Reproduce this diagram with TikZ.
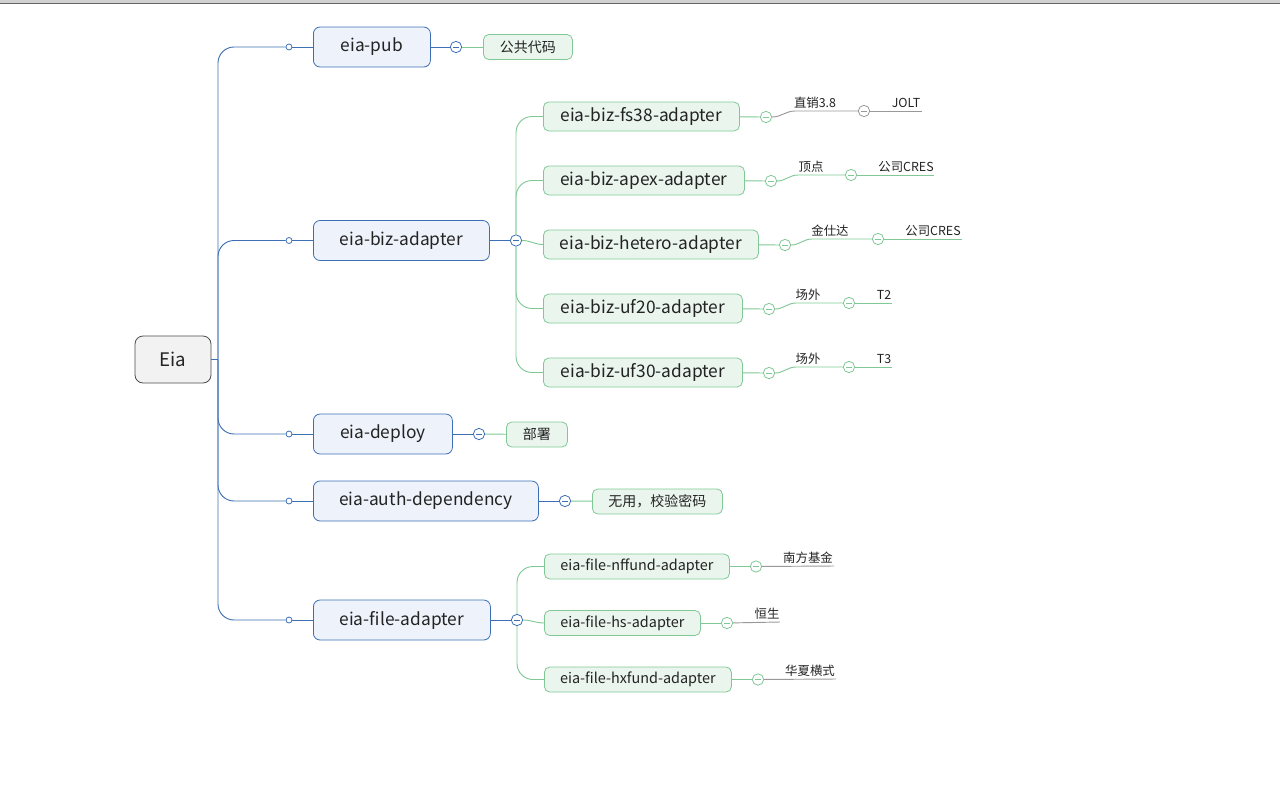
\documentclass[tikz,border=0pt]{standalone}
\usepackage{fontspec}
\setmainfont{Noto Sans CJK SC}
\usetikzlibrary{calc}
\definecolor{modblue}{RGB}{61,111,181}
\definecolor{modfill}{RGB}{238,243,251}
\definecolor{subgreen}{RGB}{128,200,150}
\definecolor{subfill}{RGB}{234,245,238}
\definecolor{txt}{RGB}{35,35,35}

\begin{document}
\begin{tikzpicture}[x=0.75pt, y=-0.75pt,
  every node/.style={text=txt},
  rootbox/.style={draw=black!70, fill=black!5, rounded corners=6pt, line width=0.6pt, minimum width=57pt, minimum height=35.25pt, font=\fontsize{14}{14}\selectfont},
  modbox/.style={draw=modblue, fill=modfill, rounded corners=5pt, line width=0.6pt, minimum height=30pt, anchor=west, font=\fontsize{13}{14}\selectfont},
  subbox/.style={draw=subgreen, fill=subfill, rounded corners=4pt, line width=0.6pt, minimum height=21.75pt, anchor=west, font=\fontsize{13}{14}\selectfont},
  filebox/.style={subbox, minimum height=18.75pt, font=\fontsize{10.8}{11}\selectfont},
  notebox/.style={subbox, minimum height=18.75pt, font=\fontsize{10.5}{11}\selectfont},
  tag/.style={anchor=base, inner sep=0pt, font=\fontsize{9.3}{10}\selectfont},
  fold/.style={circle, draw=#1, fill=white, line width=0.6pt, minimum size=8.5pt, inner sep=0pt,
    path picture={\draw[#1, line width=0.7pt] ([xshift=-2.3pt]path picture bounding box.center) -- ([xshift=2.3pt]path picture bounding box.center);}},
  knob/.style={circle, draw=modblue, fill=white, line width=0.6pt, minimum size=4.5pt, inner sep=0pt},
  blueline/.style={draw=modblue, line width=0.7pt},
  greenline/.style={draw=subgreen, line width=0.7pt},
  grayline/.style={draw=black!40, line width=0.7pt},
]
\useasboundingbox (0,0) rectangle (1280,810);
% top bar
\fill[black!18] (0,0) rectangle (1280,3);
\draw[black!60, line width=0.9pt] (0,3.5) -- (1280,3.5);

% root and first level
\node[rootbox] (eia) at (173,359.5) {Eia};
\node[modbox, minimum width=87.75pt] (pub) at (313,47) {eia-pub};
\node[modbox, minimum width=132pt] (biz) at (313,240.5) {eia-biz-adapter};
\node[modbox, minimum width=104.25pt] (deploy) at (313,434) {eia-deploy};
\node[modbox, minimum width=168.75pt] (auth) at (313,501) {eia-auth-dependency};
\node[modbox, minimum width=132.75pt] (file) at (313,620) {eia-file-adapter};

\node[knob] (kpub) at (289,47) {};
\node[knob] (kbiz) at (289,240.5) {};
\node[knob] (kdeploy) at (289,434) {};
\node[knob] (kauth) at (289,501) {};
\node[knob] (kfile) at (289,620) {};

\coordinate (trunk) at (218,359.5);
\draw[blueline] (eia.east) -- (trunk);
\foreach \k in {kpub,kbiz,kdeploy,kauth,kfile}
  \draw[blueline, rounded corners=12pt] (trunk) |- (\k);
\draw[blueline] (kpub) -- (pub);
\draw[blueline] (kbiz) -- (biz);
\draw[blueline] (kdeploy) -- (deploy);
\draw[blueline] (kauth) -- (auth);
\draw[blueline] (kfile) -- (file);

% eia-pub
\node[fold=modblue] (fpub) at (456,47) {};
\node[notebox, minimum width=66.75pt] (pubnote) at (483,47) {公共代码};
\draw[blueline] (pub) -- (fpub);
\draw[greenline] (fpub) -- (pubnote);

% eia-biz-adapter
\node[fold=modblue] (fbiz) at (516,240.5) {};
\draw[blueline] (biz) -- (fbiz);
\node[subbox, minimum width=147pt] (fs38) at (543,116.5) {eia-biz-fs38-adapter};
\node[subbox, minimum width=150.75pt] (apex) at (543,180.5) {eia-biz-apex-adapter};
\node[subbox, minimum width=161.25pt] (hetero) at (543,244.5) {eia-biz-hetero-adapter};
\node[subbox, minimum width=149.25pt] (uf20) at (543,308.5) {eia-biz-uf20-adapter};
\node[subbox, minimum width=149.25pt] (uf30) at (543,372.5) {eia-biz-uf30-adapter};
\draw[greenline, rounded corners=12pt] (fbiz) |- (fs38);
\draw[greenline, rounded corners=12pt] (fbiz) |- (apex);
\draw[greenline] (fbiz.east) to[out=0, in=180] (hetero.west);
\draw[greenline, rounded corners=12pt] (fbiz) |- (uf20);
\draw[greenline, rounded corners=12pt] (fbiz) |- (uf30);

% fs38 row
\node[fold=subgreen] (ffs38) at (766,117) {};
\node[fold=black!40] (ffs38b) at (864,111) {};
\coordinate (efs38) at (922,111);
\node[tag] (tfs38) at (815,107.5) {直销3.8};
\node[tag] (tjolt) at (906,107.5) {JOLT};
\draw[greenline] (fs38) -- (ffs38);
\draw[grayline] (ffs38.east) to[out=0, in=180] (795,111) -- (ffs38b);
\draw[grayline] (ffs38b) -- (efs38);

% apex row
\node[fold=subgreen] (fapex) at (771,181) {};
\node[fold=subgreen] (fapexb) at (851,175) {};
\coordinate (eapex) at (934,175);
\node[tag] (tapex) at (811,171.5) {顶点};
\node[tag] (tcres) at (906,171.5) {公司CRES};
\draw[greenline] (apex) -- (fapex);
\draw[greenline] (fapex.east) to[out=0, in=180] (798,175) -- (fapexb);
\draw[greenline] (fapexb) -- (eapex);

% hetero row
\node[fold=subgreen] (fhet) at (785,245) {};
\node[fold=subgreen] (fhetb) at (878,239) {};
\coordinate (ehet) at (962,239);
\node[tag] (thet) at (830,235.5) {金仕达};
\node[tag] (tcresb) at (933,235.5) {公司CRES};
\draw[greenline] (hetero) -- (fhet);
\draw[greenline] (fhet.east) to[out=0, in=180] (812,239) -- (fhetb);
\draw[greenline] (fhetb) -- (ehet);

% uf20 row
\node[fold=subgreen] (fuf20) at (769,309) {};
\node[fold=subgreen] (fuf20b) at (849,303) {};
\coordinate (euf20) at (892,303);
\node[tag] (tuf20) at (808,299.5) {场外};
\node[tag] (tt2) at (884,299.5) {T2};
\draw[greenline] (uf20) -- (fuf20);
\draw[greenline] (fuf20.east) to[out=0, in=180] (796,303) -- (fuf20b);
\draw[greenline] (fuf20b) -- (euf20);

% uf30 row
\node[fold=subgreen] (fuf30) at (769,373) {};
\node[fold=subgreen] (fuf30b) at (849,367) {};
\coordinate (euf30) at (892,367);
\node[tag] (tuf30) at (808,363.5) {场外};
\node[tag] (tt3) at (884,363.5) {T3};
\draw[greenline] (uf30) -- (fuf30);
\draw[greenline] (fuf30.east) to[out=0, in=180] (796,367) -- (fuf30b);
\draw[greenline] (fuf30b) -- (euf30);

% eia-deploy
\node[fold=modblue] (fdeploy) at (479,434) {};
\node[notebox, minimum width=45.75pt] (deploynote) at (506,434.5) {部署};
\draw[blueline] (deploy) -- (fdeploy);
\draw[greenline] (fdeploy) -- (deploynote);

% eia-auth-dependency
\node[fold=modblue] (fauth) at (565,501) {};
\node[notebox, minimum width=97.5pt] (authnote) at (592,501.5) {无用，校验密码};
\draw[blueline] (auth) -- (fauth);
\draw[greenline] (fauth) -- (authnote);

% eia-file-adapter
\node[fold=modblue] (ffile) at (517,620) {};
\draw[blueline] (file) -- (ffile);
\node[filebox, minimum width=138.75pt] (nffund) at (544,566.5) {eia-file-nffund-adapter};
\node[filebox, minimum width=117pt] (hs) at (544,623) {eia-file-hs-adapter};
\node[filebox, minimum width=140.25pt] (hxfund) at (544,679.5) {eia-file-hxfund-adapter};
\draw[greenline, rounded corners=12pt] (ffile) |- (nffund);
\draw[greenline] (ffile.east) to[out=0, in=180] (hs.west);
\draw[greenline, rounded corners=12pt] (ffile) |- (hxfund);

\node[fold=subgreen] (fnf) at (756,566.5) {};
\coordinate (enf) at (834,566);
\node[tag] (tnf) at (808,562) {南方基金};
\draw[greenline] (nffund) -- (fnf);
\draw[grayline] (fnf) -- (enf);

\node[fold=subgreen] (fhs) at (727,623) {};
\coordinate (ehs) at (780,622);
\node[tag] (ths) at (767,618) {恒生};
\draw[greenline] (hs) -- (fhs);
\draw[grayline] (fhs) -- (ehs);

\node[fold=subgreen] (fhx) at (758,679.5) {};
\coordinate (ehx) at (836,679);
\node[tag] (thx) at (810,675) {华夏横式};
\draw[greenline] (hxfund) -- (fhx);
\draw[grayline] (fhx) -- (ehx);
\end{tikzpicture}
\end{document}
